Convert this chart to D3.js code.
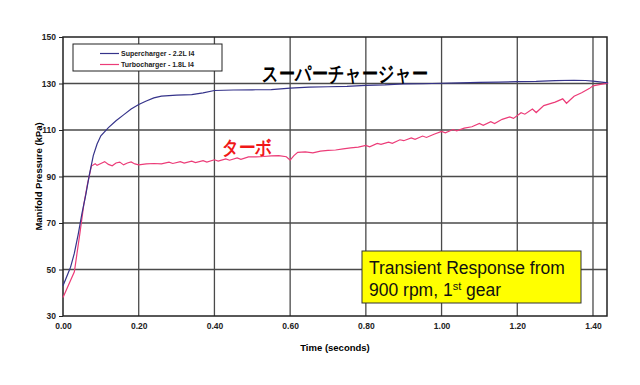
<!DOCTYPE html>
<html>
<head>
<meta charset="utf-8">
<script src="https://cdn.jsdelivr.net/npm/d3@7"></script>
<style>
  body { margin: 0; background: #fff; }
  text { font-family: "Liberation Sans", Arial, sans-serif; }
</style>
</head>
<body>
<div id="chart"></div>
<script>
// data
var xTicks = [0, 0.2, 0.4, 0.6, 0.8, 1.0, 1.2, 1.4];
var yTicks = [30, 50, 70, 90, 110, 130, 150];

var superTime = [0, 0.01, 0.02, 0.03, 0.04, 0.05, 0.06, 0.07, 0.08, 0.09, 0.10, 0.12, 0.14, 0.16, 0.18, 0.20, 0.22, 0.24, 0.26, 0.30, 0.34, 0.37, 0.40, 0.45, 0.50, 0.55, 0.60, 0.65, 0.70, 0.75, 0.80, 0.85, 0.90, 0.95, 1.00, 1.05, 1.10, 1.15, 1.20, 1.25, 1.30, 1.35, 1.38, 1.40, 1.44];
var superVals = [43, 47, 51, 57, 65, 74, 82, 91, 99, 104, 107.5, 111, 114, 116.5, 119, 121, 122.5, 123.8, 124.6, 125, 125.2, 126, 127, 127.2, 127.3, 127.4, 128, 128.4, 128.6, 128.8, 129.2, 129.4, 129.8, 129.9, 130.1, 130.3, 130.5, 130.6, 130.8, 130.9, 131.2, 131.4, 131.3, 131, 130.3];

var turboTime = [0, 0.03, 0.045, 0.055, 0.065, 0.075, 0.085, 0.09, 0.10, 0.11, 0.12, 0.13, 0.14, 0.15, 0.16, 0.17, 0.18, 0.19, 0.20, 0.22, 0.24, 0.26, 0.28, 0.29, 0.31, 0.32, 0.34, 0.35, 0.37, 0.38, 0.40, 0.41, 0.43, 0.44, 0.46, 0.47, 0.49, 0.51, 0.53, 0.55, 0.57, 0.59, 0.60, 0.61, 0.62, 0.64, 0.66, 0.68, 0.70, 0.72, 0.74, 0.76, 0.78, 0.80, 0.81, 0.83, 0.84, 0.86, 0.87, 0.89, 0.90, 0.92, 0.93, 0.95, 0.96, 0.98, 1.00, 1.01, 1.03, 1.04, 1.06, 1.08, 1.10, 1.11, 1.13, 1.14, 1.16, 1.18, 1.19, 1.21, 1.22, 1.24, 1.25, 1.27, 1.30, 1.32, 1.33, 1.35, 1.37, 1.39, 1.40, 1.42, 1.44];
var turboVals = [38, 49, 66, 78, 87, 94.5, 95.5, 94.8, 95.6, 96.4, 95.2, 94.6, 95.8, 96.2, 95.0, 95.8, 96.3, 95.4, 95.0, 95.4, 95.6, 95.4, 96.2, 95.6, 96.4, 95.8, 96.6, 96.0, 96.8, 96.2, 97.2, 96.6, 97.6, 97.0, 98.0, 97.4, 98.4, 98.4, 98.6, 98.9, 99.0, 98.5, 97.0, 99.0, 100.4, 100.6, 100.2, 100.9, 101.2, 101.4, 101.9, 102.3, 102.6, 103.4, 102.8, 104.2, 103.8, 104.8, 104.3, 105.8, 105.4, 106.6, 106.0, 107.4, 106.8, 108.2, 109.4, 108.8, 110.2, 109.6, 110.8, 111.4, 112.8, 112.0, 113.6, 112.8, 114.6, 115.6, 115.0, 117.4, 116.8, 119.0, 117.5, 120.5, 122.0, 123.4, 121.5, 124.5, 126.0, 127.8, 129.0, 129.6, 130.2];

var seriesNames = ["Supercharger - 2.2L I4", "Turbocharger - 1.8L I4"];
var seriesColors = ["#35338a", "#ec3c78"];

var width = 640, height = 385;
var margin = {top: 37, right: 33, bottom: 69, left: 63};

var svg = d3.select("#chart").append("svg")
  .attr("width", width)
  .attr("height", height);

var x = d3.scaleLinear().domain([0, 1.437]).range([margin.left, width - margin.right]);
var y = d3.scaleLinear().domain([30, 150]).range([height - margin.bottom, margin.top]);

// grid
svg.append("g").selectAll("line").data(xTicks.slice(1)).enter().append("line")
  .attr("x1", d => x(d)).attr("x2", d => x(d))
  .attr("y1", y(150)).attr("y2", y(30))
  .attr("stroke", "#4a4a4a").attr("stroke-width", 1.3);
svg.append("g").selectAll("line").data(yTicks.slice(1, -1)).enter().append("line")
  .attr("x1", x(0)).attr("x2", x.range()[1])
  .attr("y1", d => y(d)).attr("y2", d => y(d))
  .attr("stroke", "#4a4a4a").attr("stroke-width", 1.3);

svg.append("rect")
  .attr("x", x(0)).attr("y", y(150))
  .attr("width", x.range()[1] - x(0)).attr("height", y(30) - y(150))
  .attr("fill", "none").attr("stroke", "#222").attr("stroke-width", 1.5);

// axes
var xAxis = svg.append("g")
  .attr("transform", "translate(0," + y(30) + ")")
  .call(d3.axisBottom(x).tickValues(xTicks).tickFormat(d3.format(".2f")).tickSize(0).tickPadding(7));
var yAxis = svg.append("g")
  .attr("transform", "translate(" + x(0) + ",0)")
  .call(d3.axisLeft(y).tickValues(yTicks).tickSize(4).tickPadding(3));
[xAxis, yAxis].forEach(function(a) {
  a.select(".domain").remove();
  a.selectAll("line").attr("stroke", "#222");
  a.selectAll("text").attr("font-size", 8.5).attr("font-weight", "bold")
    .attr("fill", "#222").attr("font-family", "Liberation Sans, Arial, sans-serif");
});

svg.append("text")
  .attr("x", (x(0) + x.range()[1]) / 2).attr("y", 351)
  .attr("text-anchor", "middle").attr("font-size", 9.5).attr("font-weight", "bold")
  .text("Time (seconds)");
svg.append("text")
  .attr("transform", "translate(42," + (y(90)) + ") rotate(-90)")
  .attr("text-anchor", "middle").attr("font-size", 9.5).attr("font-weight", "bold")
  .text("Manifold Pressure (kPa)");

// lines
var line = d3.line().x(d => x(d[0])).y(d => y(d[1]));
var superData = d3.zip(superTime, superVals);
var turboData = d3.zip(turboTime, turboVals);

svg.append("path").datum(turboData)
  .attr("d", line).attr("fill", "none")
  .attr("stroke", seriesColors[1]).attr("stroke-width", 1.2);
svg.append("path").datum(superData)
  .attr("d", line).attr("fill", "none")
  .attr("stroke", seriesColors[0]).attr("stroke-width", 1.2);

// legend
var legend = svg.append("g");
legend.append("rect")
  .attr("x", 73).attr("y", 44).attr("width", 149).attr("height", 27)
  .attr("fill", "#fff").attr("stroke", "#222").attr("stroke-width", 1);
seriesNames.forEach(function(name, i) {
  var ly = 53.5 + i * 11;
  legend.append("line")
    .attr("x1", 100).attr("x2", 119).attr("y1", ly).attr("y2", ly)
    .attr("stroke", seriesColors[i]).attr("stroke-width", 1.2);
  legend.append("text")
    .attr("x", 121).attr("y", ly + 2.5)
    .attr("font-size", 7).attr("font-weight", "bold").attr("fill", "#222")
    .text(name);
});

// annotations
svg.append("text")
  .attr("x", 262).attr("y", 81)
  .attr("font-family", "Noto Sans CJK JP").attr("font-weight", "bold")
  .attr("font-size", 21).attr("textLength", 166).attr("lengthAdjust", "spacingAndGlyphs")
  .attr("fill", "#000")
  .text("スーパーチャージャー");
svg.append("text")
  .attr("x", 222).attr("y", 154)
  .attr("font-family", "Noto Sans CJK JP").attr("font-weight", "bold")
  .attr("font-size", 19).attr("textLength", 50).attr("lengthAdjust", "spacingAndGlyphs")
  .attr("fill", "#f01818")
  .text("ターボ");

var note = svg.append("g");
note.append("rect")
  .attr("x", 362).attr("y", 251).attr("width", 219).attr("height", 52)
  .attr("fill", "#ffff00").attr("stroke", "#333").attr("stroke-width", 1);
note.append("text")
  .attr("x", 369).attr("y", 274).attr("font-size", 17.5).attr("fill", "#111")
  .text("Transient Response from");
var t2 = note.append("text")
  .attr("x", 369).attr("y", 296).attr("font-size", 17.5).attr("fill", "#111");
t2.append("tspan").text("900 rpm, 1");
t2.append("tspan").attr("font-size", 11).attr("dy", -6).text("st");
t2.append("tspan").attr("dy", 6).text(" gear");
</script>
</body>
</html>
